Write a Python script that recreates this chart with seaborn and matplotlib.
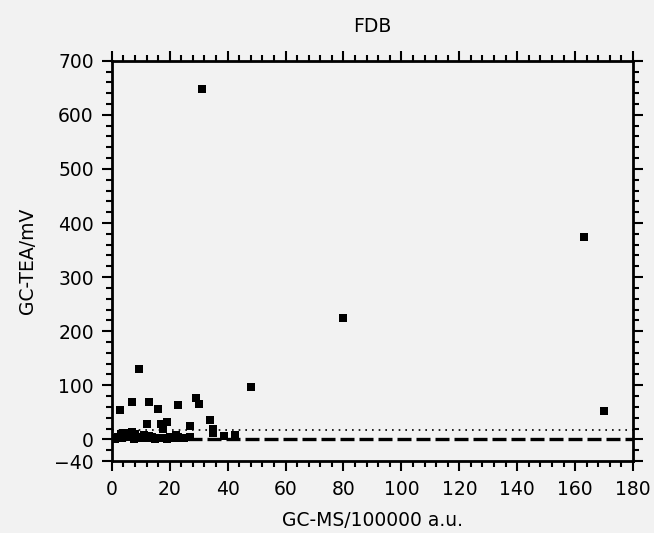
import numpy as np
import pandas as pd
import matplotlib
matplotlib.use("Agg")
import matplotlib.pyplot as plt
import seaborn as sns
from matplotlib.ticker import MultipleLocator

# GC-MS 与 GC-TEA 数据
gc_ms = [31, 163, 80, 48, 170,
         2.8, 9.4, 6.9, 13, 16, 22.9, 28.9, 30,
         12.3, 16.9, 18.9, 17.7, 27, 33.9, 35, 35, 38.8, 42.6, 27,
         1, 2, 3, 4, 5, 6, 7, 8, 9, 10, 11, 12, 14, 15, 16, 18, 20, 21, 22, 23, 25,
         3.5, 5.5, 6.5, 7.5, 13, 19, 24, 0.5]
gc_tea = [648, 375, 224, 96, 52,
          55, 130, 70, 70, 57, 63, 76, 65,
          28, 29, 33, 19, 25, 36, 19, 12, 7, 9, 4,
          0, 5, 10, 12, 8, 12, 14, 10, 5, 3, 8, 2, 5, 0, 3, 2, 5, 3, 8, 4, 3,
          2, 4, 6, 1, 6, 1, 2, 2]

title = "FDB"
x_label = "GC-MS/100000 a.u."
y_label = "GC-TEA/mV"
x_ticks = [0, 20, 40, 60, 80, 100, 120, 140, 160, 180]
y_ticks = [-40, 0, 100, 200, 300, 400, 500, 600, 700]
dotted_level = 17

df = pd.DataFrame({"ms": gc_ms, "tea": gc_tea})

sns.set_style("ticks")
bg = "#f2f2f2"
plt.rcParams['font.family'] = ['DejaVu Sans']
plt.rcParams['text.color'] = 'black'
plt.rcParams['axes.labelcolor'] = 'black'
plt.rcParams['xtick.color'] = 'black'
plt.rcParams['ytick.color'] = 'black'

fig = plt.figure(figsize=(6.54, 5.33), dpi=100, facecolor=bg)
ax = fig.add_axes([0.171, 0.135, 0.797, 0.751], facecolor=bg)

sns.scatterplot(data=df, x="ms", y="tea", marker="s", s=30, color="black",
                edgecolor="black", linewidth=0, ax=ax, zorder=3)

ax.axhline(0, color="black", lw=2.4, ls=(0, (4.2, 1.5)), zorder=2)
ax.axhline(dotted_level, color="black", lw=1.2, ls=(0, (1, 3)), zorder=2)

ax.set_xlim(0, 180)
ax.set_ylim(-40, 700)
ax.set_xticks(x_ticks)
ax.set_yticks(y_ticks)
ax.xaxis.set_minor_locator(MultipleLocator(4))
ax.yaxis.set_minor_locator(MultipleLocator(20))
ax.tick_params(which="major", direction="out", length=7, width=1.5,
               labelsize=13.5, labelcolor="black", top=True, right=True, pad=6)
ax.tick_params(which="minor", direction="out", length=4.3, width=1.5,
               top=True, right=True)
ax.tick_params(axis="x", which="major", pad=7)
for sp in ax.spines.values():
    sp.set_linewidth(2)
    sp.set_visible(True)
    sp.set_color("black")

ax.set_xlabel(x_label, fontsize=13.5, labelpad=8)
ax.set_ylabel(y_label, fontsize=13.5, labelpad=12)
ax.set_title(title, fontsize=13.5, pad=21)

fig.savefig("out.png", dpi=100, facecolor=bg)
